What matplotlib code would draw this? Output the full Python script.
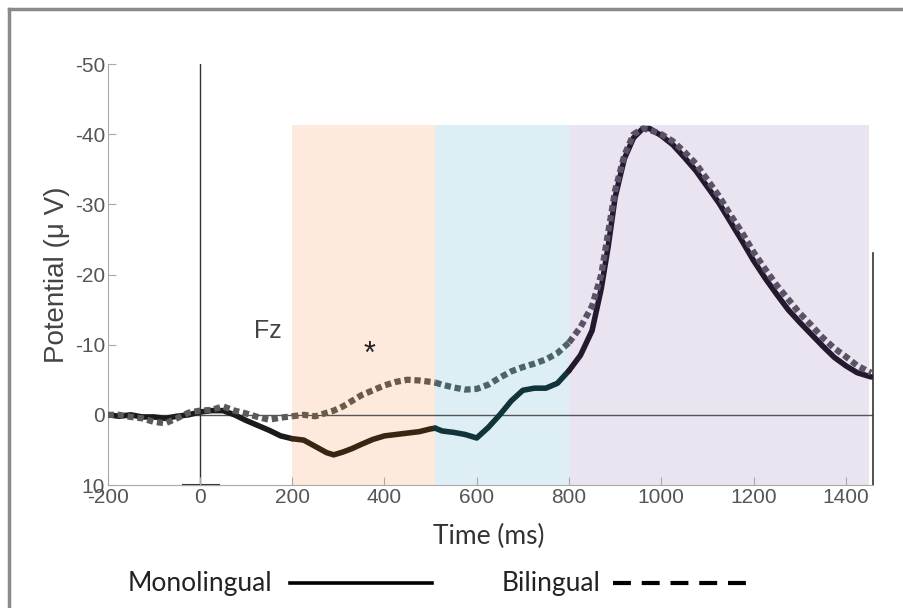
import numpy as np
import matplotlib
matplotlib.use("Agg")
import matplotlib.pyplot as plt
from matplotlib.lines import Line2D

# time points (ms) and read-off potentials (uV)
t = np.array([-200, -175, -150, -125, -100, -75, -50, -25, 0, 25, 50, 75, 100, 125, 150, 175,
              200, 225, 250, 275, 290, 310, 330, 350, 375, 400, 425, 450, 475, 500, 510,
              525, 550, 575, 600, 625, 650, 675, 700, 725, 750, 775, 800,
              825, 850, 870, 885, 900, 920, 940, 960, 975, 1000, 1025, 1050, 1075, 1100,
              1125, 1150, 1175, 1200, 1225, 1250, 1275, 1300, 1325, 1350, 1375, 1400,
              1425, 1455])

monolingual = np.array([0.0, 0.2, 0.0, 0.3, 0.3, 0.5, 0.2, 0.0, -0.4, -0.6, -0.6, 0.0, 0.8, 1.5, 2.2, 3.0,
                        3.4, 3.6, 4.5, 5.4, 5.7, 5.3, 4.8, 4.2, 3.5, 3.0, 2.8, 2.6, 2.4, 2.0, 1.9,
                        2.3, 2.5, 2.8, 3.3, 1.8, 0.0, -2.0, -3.5, -3.8, -3.8, -4.5, -6.3,
                        -8.5, -12.0, -18.0, -24.0, -31.0, -36.5, -39.5, -40.8, -40.8, -39.8, -38.5, -36.7, -34.8, -32.5,
                        -30.2, -27.5, -24.8, -22.0, -19.5, -17.2, -15.0, -13.2, -11.5, -9.8, -8.2, -7.0,
                        -6.0, -5.4])

bilingual = np.array([0.0, 0.0, 0.3, 0.5, 1.0, 1.2, 0.5, -0.3, -0.6, -0.7, -1.2, -0.6, -0.2, 0.3, 0.7, 0.4,
                      0.2, 0.0, 0.2, -0.3, -0.6, -1.2, -2.0, -2.8, -3.5, -4.2, -4.7, -5.0, -4.9, -4.7, -4.6,
                      -4.3, -3.9, -3.6, -3.7, -4.3, -5.3, -6.2, -6.8, -7.3, -7.9, -8.8, -10.3,
                      -12.5, -15.5, -20.0, -26.0, -32.0, -37.0, -40.0, -40.8, -40.6, -40.0, -39.0, -37.5, -35.8, -33.5,
                      -31.2, -28.5, -26.0, -23.2, -20.8, -18.5, -16.5, -14.5, -12.8, -11.0, -9.5, -8.3,
                      -7.0, -6.0])

# analysis windows
windows = [(200, 510), (510, 800), (800, 1450)]
window_colors = ["#fdeadc", "#ddeef4", "#e9e4f0"]
segment_edges = [-200, 200, 510, 800, 1460]
mono_colors = ["#1a1a1a", "#3a2412", "#10343a", "#231a30"]
bi_colors = ["#5a5a5a", "#6a5a4c", "#4a6468", "#5a5266"]

plt.rcParams["font.family"] = ["Liberation Sans", "DejaVu Sans"]
plt.rcParams["axes.unicode_minus"] = False

fig = plt.figure(figsize=(9.04, 6.08), dpi=100)
ax = fig.add_axes([0.1191, 0.2023, 0.8466, 0.6924])

for (a, b), c in zip(windows, window_colors):
    ax.fill_between([a, b], 10, -41.3, color=c, lw=0, zorder=0)

ax.axhline(0, color="#555555", lw=1, zorder=1)
ax.plot([0, 0], [-50, 10], color="#333333", lw=1, zorder=1)
ax.plot([-37, 41], [10, 10], color="#333333", lw=1.5, zorder=1, clip_on=False)
ax.plot([1459, 1459], [-23, 10], color="#333333", lw=1.2, zorder=1, clip_on=False)

for i in range(4):
    lo, hi = segment_edges[i], segment_edges[i + 1]
    m = (t >= lo) & (t <= hi)
    ax.plot(t[m], monolingual[m], color=mono_colors[i], lw=4, solid_capstyle="round", zorder=3)
    ax.plot(t[m], bilingual[m], color=bi_colors[i], lw=4.5, linestyle=(0, (1.0, 0.6)),
            dash_capstyle="butt", zorder=4)

ax.set_xlim(-200, 1459)
ax.set_ylim(10, -50)
ax.set_xticks(np.arange(-200, 1401, 200))
ax.set_yticks(np.arange(-50, 11, 10))
ax.tick_params(direction="in", length=6, color="#aaaaaa", labelsize=15, labelcolor="#555555", pad=2)
for s in ["top", "right"]:
    ax.spines[s].set_visible(False)
for s in ["left", "bottom"]:
    ax.spines[s].set_color("#aaaaaa")

ax.set_ylabel("Potential (\u03bc V)", fontsize=20, color="#444444", labelpad=3)
ax.text(147, -12, "Fz", fontsize=18, color="#444444", ha="center", va="center")
ax.text(368, -8.6, "*", fontsize=22, color="#222222", ha="center", va="center")

lf = ["Lato", "DejaVu Sans"]
fig.text(0.541, 0.117, "Time (ms)", fontsize=19, family=lf, color="#333333", ha="center", va="center")
fig.text(0.141, 0.040, "Monolingual", fontsize=19, family=lf, color="#222222", ha="left", va="center")
fig.text(0.555, 0.040, "Bilingual", fontsize=19, family=lf, color="#222222", ha="left", va="center")
fig.add_artist(Line2D([0.321, 0.478], [0.041, 0.041], color="black", lw=2.6))
fig.add_artist(Line2D([0.678, 0.828], [0.041, 0.041], color="black", lw=3,
                      linestyle=(0, (4.3, 2.6))))

# frame along top and left edge
fig.add_artist(Line2D([0.0095, 0.0095], [0, 0.986], color="#8a8a8a", lw=2.5))
fig.add_artist(Line2D([0.0095, 1.0], [0.986, 0.986], color="#8a8a8a", lw=2.5))

fig.savefig("out.png", dpi=100)
